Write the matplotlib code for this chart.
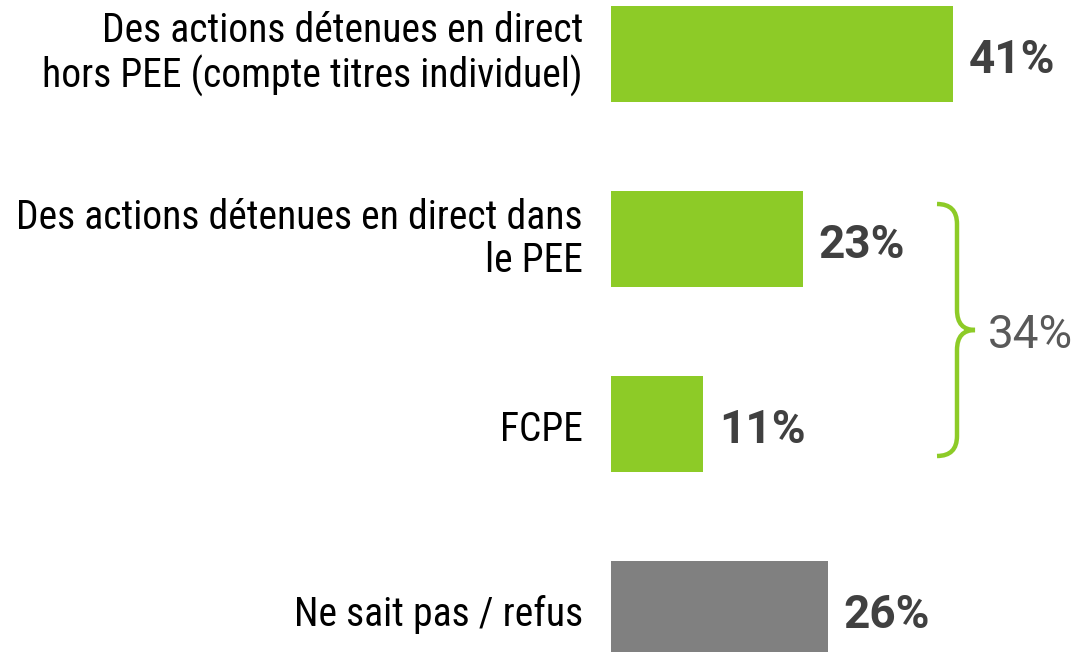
import matplotlib
matplotlib.use("Agg")
import matplotlib.pyplot as plt
from matplotlib.path import Path
from matplotlib.patches import PathPatch

plt.rcParams['font.family'] = ['Roboto Condensed', 'Roboto', 'DejaVu Sans']

categories = ["Des actions détenues en direct\nhors PEE (compte titres individuel)",
              "Des actions détenues en direct dans\nle PEE",
              "FCPE",
              "Ne sait pas / refus"]
values = [41, 23, 11, 26]
value_labels = ["41%", "23%", "11%", "26%"]
group_total = "34%"

green = "#8DCB27"
grey = "#808080"
colors = [green, green, green, grey]

W, H = 1079, 652
fig = plt.figure(figsize=(W / 100, H / 100), dpi=100)
px_per_pct = 8.34
step = 185.0
ax = fig.add_axes([611 / W, 0, (W - 611) / W, 1])
ax.set_xlim(0, (W - 611) / px_per_pct)
ax.set_ylim((H - 54) / step, -54 / step)
ax.axis("off")

ys = list(range(len(values)))
ax.barh(ys, values, height=96 / step, color=colors)

for y, v, lab, cat in zip(ys, values, value_labels, categories):
    ax.text(v + 16 / px_per_pct, y + 0.01, lab, va="center_baseline", ha="left",
            fontsize=33, fontweight="bold", color="#404040", family="Roboto")
    dy = 0.0 if "\n" in cat else 0.03
    ax.text(-28 / px_per_pct, y + dy, cat, va="center", ha="right",
            fontsize=28.5, color="black", linespacing=1.15)

# accolade regroupant PEE + FCPE
x0 = (937 - 611) / px_per_pct
x1 = (957 - 611) / px_per_pct
x2 = (975 - 611) / px_per_pct
yt = (204 - 54) / step
ym = (330 - 54) / step
yb = (456 - 54) / step
r = 20 / step
verts = [(x0, yt), (x1, yt), (x1, yt + r),
         (x1, ym - r), (x1, ym), (x2, ym),
         (x1, ym), (x1, ym + r),
         (x1, yb - r), (x1, yb), (x0, yb)]
codes = [Path.MOVETO, Path.CURVE3, Path.CURVE3,
         Path.LINETO, Path.CURVE3, Path.CURVE3,
         Path.CURVE3, Path.CURVE3,
         Path.LINETO, Path.CURVE3, Path.CURVE3]
ax.add_patch(PathPatch(Path(verts, codes), fill=False, edgecolor=green,
                       lw=3.2, capstyle="butt", clip_on=False))
ax.text(x2 + 13 / px_per_pct, ym, group_total, va="center_baseline", ha="left",
        fontsize=33, color="#595959", family="Roboto")

fig.savefig("out.png", dpi=100)
